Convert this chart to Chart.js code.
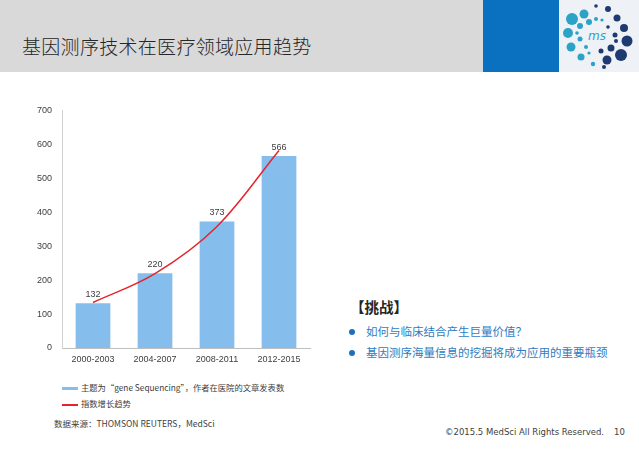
<!DOCTYPE html>
<html>
<head>
<meta charset="utf-8">
<script src="https://cdn.jsdelivr.net/npm/chart.js@4/dist/chart.umd.min.js"></script>
<style>
  html, body { margin: 0; padding: 0; background: #fff; }
  body { width: 639px; height: 451px; position: relative; overflow: hidden;
         font-family: "Noto Sans CJK SC", "Liberation Sans", sans-serif; color: #404040; }
  .hdr { position: absolute; left: 0; top: 0; width: 639px; height: 72px; background: #d9d9d9; }
  .hdr-blue { position: absolute; left: 483px; top: 0; width: 76px; height: 72px; background: #0a70c0; }
  .hdr-logo { position: absolute; left: 559px; top: 0; width: 80px; height: 72px; background: #eef2f6; }
  .title { position: absolute; left: 22px; top: 32px; font-size: 19px; font-weight: 300; color: #262626; letter-spacing: 0.3px; }
  #wrap { position: absolute; left: 20px; top: 95px; width: 300px; height: 276px; }
  .lg { position: absolute; left: 62px; font-size: 8.3px; color: #404040; white-space: nowrap; }
  .lg i { display: inline-block; width: 16px; height: 3px; vertical-align: middle; margin-right: 3px; }
  .src { position: absolute; left: 54px; top: 417px; font-size: 8.5px; color: #404040; }
  .chal { position: absolute; left: 350px; top: 296px; font-size: 14.5px; font-weight: bold; color: #262626; }
  .bl { position: absolute; left: 349px; font-size: 11.5px; color: #2e7cc2; white-space: nowrap; }
  .bl b { display: inline-block; width: 6px; height: 6px; border-radius: 50%; background: #1f6fbf;
          margin-right: 11px; vertical-align: middle; position: relative; top: -1px; }
  .foot { position: absolute; top: 427px; font-size: 8.5px; color: #404040; font-family: "DejaVu Sans", sans-serif; }
</style>
</head>
<body>
<div class="hdr"></div>
<div class="hdr-blue"></div>
<div class="hdr-logo">
  <svg width="80" height="72" viewBox="0 0 80 72">
    <g fill="#2ba3c6">
      <circle cx="13" cy="19" r="6"/><circle cx="25" cy="14" r="4.5"/><circle cx="9" cy="33" r="5"/>
      <circle cx="12" cy="47" r="4.5"/><circle cx="22" cy="57" r="3.5"/><circle cx="30" cy="22" r="3"/>
      <circle cx="21" cy="26" r="3"/><circle cx="21" cy="39" r="2.5"/><circle cx="34" cy="64" r="2.2"/>
      <circle cx="37" cy="19" r="2"/><circle cx="27" cy="47" r="2"/><circle cx="18" cy="33" r="1.8"/>
      <circle cx="43" cy="20" r="1.6"/><circle cx="30" cy="53" r="1.6"/>
    </g>
    <g fill="#1e3a6e">
      <circle cx="49" cy="9" r="3"/><circle cx="58" cy="18" r="3.5"/><circle cx="65" cy="28" r="4"/>
      <circle cx="68" cy="41" r="5.5"/><circle cx="62" cy="55" r="6"/><circle cx="48" cy="60" r="4.5"/>
      <circle cx="52" cy="48" r="3.5"/><circle cx="42" cy="51" r="2.5"/><circle cx="56" cy="35" r="2.5"/>
      <circle cx="49" cy="27" r="1.8"/><circle cx="37" cy="6" r="1.8"/><circle cx="45" cy="67" r="2"/>
      <circle cx="57" cy="41" r="2"/>
    </g>
    <text x="38" y="40" font-size="12" font-style="italic" fill="#2ba3c6" text-anchor="middle" font-family="DejaVu Sans">ms</text>
  </svg>
</div>
<div class="title">基因测序技术在医疗领域应用趋势</div>

<div id="wrap"><canvas id="chart"></canvas></div>

<div class="lg" style="top:381px"><i style="background:#85bdec"></i>主题为“gene Sequencing”，作者在医院的文章发表数</div>
<div class="lg" style="top:397px"><i style="background:#e3262d;height:2px"></i>指数增长趋势</div>
<div class="src">数据来源：THOMSON REUTERS，MedSci</div>

<div class="chal">【挑战】</div>
<div class="bl" style="top:323px"><b></b>如何与临床结合产生巨量价值？</div>
<div class="bl" style="top:344px"><b></b>基因测序海量信息的挖掘将成为应用的重要瓶颈</div>

<div class="foot" style="left:445px">©2015.5 MedSci All Rights Reserved.</div>
<div class="foot" style="left:614px">10</div>

<script>
// ── data ──
const periods     = ['2000-2003', '2004-2007', '2008-2011', '2012-2015'];
const paperCounts = [132, 220, 373, 566];
const trendValues = [134, 219, 358, 582];
const yTicks      = [0, 100, 200, 300, 400, 500, 600, 700];

const tickFont = { family: '"Liberation Sans", "DejaVu Sans", sans-serif', size: 9 };

// value labels above the bars
const barLabels = {
  id: 'barLabels',
  afterDatasetsDraw(chart) {
    const ctx = chart.ctx;
    const meta = chart.getDatasetMeta(1);
    ctx.save();
    ctx.font = '9px "Liberation Sans", sans-serif';
    ctx.fillStyle = '#404040';
    ctx.textAlign = 'center';
    ctx.textBaseline = 'bottom';
    meta.data.forEach((bar, i) => {
      ctx.fillText(String(paperCounts[i]), bar.x, bar.y - 4);
    });
    ctx.restore();
  }
};

new Chart(document.getElementById('chart'), {
  data: {
    labels: periods,
    datasets: [
      {
        type: 'line',
        label: '指数增长趋势',
        data: trendValues,
        borderColor: '#e3262d',
        borderWidth: 1.5,
        pointRadius: 0,
        tension: 0.35,
        fill: false,
        order: 0
      },
      {
        type: 'bar',
        label: '文章发表数',
        data: paperCounts,
        backgroundColor: '#85bdec',
        categoryPercentage: 1,
        barPercentage: 0.56,
        order: 1
      }
    ]
  },
  options: {
    responsive: true, maintainAspectRatio: false, animation: false,
    layout: { padding: { top: 3, right: 10, left: 0, bottom: 0 } },
    plugins: { legend: { display: false }, tooltip: { enabled: false } },
    scales: {
      x: {
        grid: { display: false, drawTicks: false },
        border: { color: '#bfbfbf' },
        ticks: { color: '#404040', font: tickFont, padding: 6, maxRotation: 0 },
        afterFit: s => { s.height = 23; }
      },
      y: {
        min: 0, max: 700,
        grid: { display: false, drawTicks: false },
        border: { color: '#d0d0d0' },
        afterBuildTicks: s => { s.ticks = yTicks.map(v => ({ value: v })); },
        ticks: { color: '#404040', font: tickFont, padding: 10 },
        afterFit: s => { s.width = 42; }
      }
    }
  },
  plugins: [barLabels]
});
</script>
</body>
</html>
